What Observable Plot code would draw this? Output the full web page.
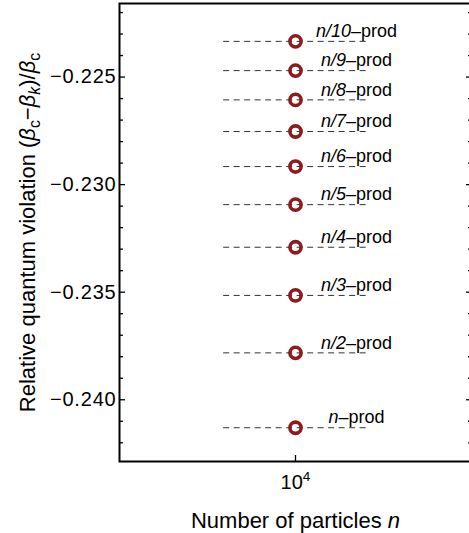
<!DOCTYPE html>
<html>
<head>
<meta charset="utf-8">
<script src="https://cdn.jsdelivr.net/npm/d3@7"></script>
<script src="https://cdn.jsdelivr.net/npm/@observablehq/plot@0.6"></script>
<style>
  html, body { margin: 0; padding: 0; background: #fff; }
  #chart { width: 469px; height: 533px; overflow: hidden; }
  #chart svg { font-family: "Liberation Sans", Arial, sans-serif; max-width: none !important; width: 472px; height: 533px; }
</style>
</head>
<body>
<div id="chart"></div>
<script>
// ---- data ----
const productLabels = ["n", "n/2", "n/3", "n/4", "n/5", "n/6", "n/7", "n/8", "n/9", "n/10"];
const violation = [-0.2413, -0.23782, -0.23515, -0.23291, -0.23093, -0.22916, -0.22753, -0.22606, -0.2247, -0.22334];
const particles = 10000;
const dashFrom = 6250;
const dashTo = 16000;
const xTicks = [10000];
const yMajorTicks = [-0.240, -0.235, -0.230, -0.225];
const yMinorTicks = [-0.242, -0.241, -0.239, -0.238, -0.237, -0.236, -0.234, -0.233, -0.232, -0.231,
                     -0.229, -0.228, -0.227, -0.226, -0.224, -0.223, -0.222];
const yDomain = [-0.24287, -0.22158];
const xDomain = [Math.pow(10, 3.5), Math.pow(10, 4.5)];

const rows = productLabels.map((label, i) => ({
  label: label + "–prod", v: violation[i], n: particles, from: dashFrom, to: dashTo
}));

const chart = Plot.plot({
  width: 472,
  height: 533,
  marginLeft: 119,
  marginRight: 1,
  marginTop: 3,
  marginBottom: 72,
  x: {type: "log", domain: xDomain, label: null},
  y: {domain: yDomain, label: null},
  style: {fontFamily: "'Liberation Sans', Arial, sans-serif", color: "black", background: "white"},
  marks: [
    Plot.ruleY(rows, {x1: "from", x2: "to", y: "v", stroke: "#333", strokeWidth: 1, strokeDasharray: "6,4.5"}),
    Plot.dot(rows, {x: "n", y: "v", r: 5.6, stroke: "#8c1c1c", strokeWidth: 3.6, fill: "none"}),
    Plot.text(rows, {x: "n", y: "v", text: "label", dx: 61, dy: -10, fontSize: 18, fill: "black"}),
    // left ticks (inward)
    Plot.axisY(yMajorTicks, {anchor: "left", tickSize: 6, dx: 6, fill: "none", strokeWidth: 1.3, label: null}),
    Plot.axisY(yMinorTicks, {anchor: "left", tickSize: 4, dx: 4, fill: "none", strokeWidth: 1.3, label: null}),
    // right ticks (inward)
    Plot.axisY(yMajorTicks, {anchor: "right", tickSize: 6, dx: -6, fill: "none", strokeWidth: 1.3, label: null}),
    Plot.axisY(yMinorTicks, {anchor: "right", tickSize: 4, dx: -4, fill: "none", strokeWidth: 1.3, label: null}),
    // y tick labels
    Plot.axisY(yMajorTicks, {anchor: "left", tickSize: 0, tickPadding: 3, fontSize: 20, tickFormat: d3.format(".3f"), label: null}),
    // y title
    Plot.axisY([], {anchor: "left", tickSize: 0, fontSize: 22, label: "Relative quantum violation (βc−βk)/βc", labelAnchor: "center", labelOffset: 100}),
    // x tick + label
    Plot.axisX(xTicks, {anchor: "bottom", tickSize: 6, dy: -6, fill: "none", strokeWidth: 1.3, label: null}),
    Plot.axisX(xTicks, {anchor: "bottom", tickSize: 0, tickPadding: 13, fontSize: 20, tickFormat: () => "10^4", label: null}),
    Plot.axisX([], {anchor: "bottom", tickSize: 0, fontSize: 22, label: "Number of particles n", labelAnchor: "center", labelOffset: 66}),
    Plot.frame({stroke: "black", strokeWidth: 2})
  ]
});

document.getElementById("chart").appendChild(chart);

// ---- rich text: italics, subscripts, superscripts ----
function rich(el, parts) {
  el.textContent = "";
  let shift = 0;
  for (const p of parts) {
    const ts = document.createElementNS("http://www.w3.org/2000/svg", "tspan");
    ts.textContent = p.t;
    if (p.i) ts.setAttribute("font-style", "italic");
    let target = 0;
    if (p.sub) { ts.setAttribute("font-size", "0.72em"); target = 5; }
    if (p.sup) { ts.setAttribute("font-size", "0.68em"); target = -8; }
    if (target !== shift) { ts.setAttribute("dy", (target - shift) + "px"); shift = target; }
    el.appendChild(ts);
  }
}

d3.select(chart).selectAll("text").each(function () {
  const s = this.textContent;
  let m;
  if ((m = s.match(/^(n(?:\/\d+)?)–prod$/))) {
    rich(this, [{t: m[1], i: 1}, {t: "–prod"}]);
  } else if (s.startsWith("Relative")) {
    rich(this, [
      {t: "Relative quantum violation ("}, {t: "β", i: 1}, {t: "c", sub: 1}, {t: "−"},
      {t: "β", i: 1}, {t: "k", sub: 1, i: 1}, {t: ")/"}, {t: "β", i: 1}, {t: "c", sub: 1}
    ]);
  } else if (s.startsWith("Number")) {
    rich(this, [{t: "Number of particles "}, {t: "n", i: 1}]);
  } else if (s === "10^4") {
    rich(this, [{t: "10"}, {t: "4", sup: 1}]);
  } else if (/^−0\.\d{3}$/.test(s)) {
    this.setAttribute("letter-spacing", "0.8px");
  }
});
</script>
</body>
</html>
